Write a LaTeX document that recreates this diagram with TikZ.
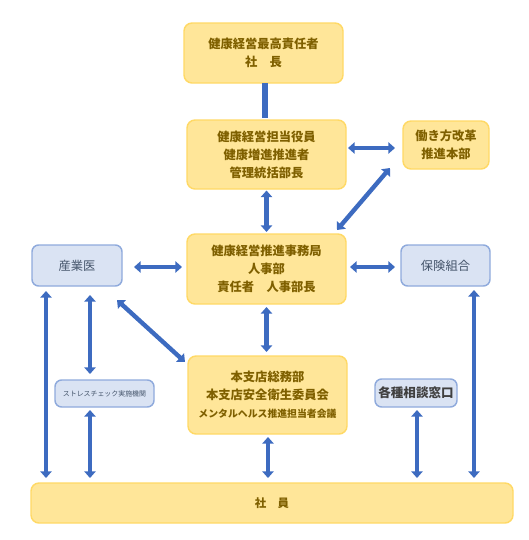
\documentclass[tikz,border=0pt]{standalone}
\usepackage{fontspec}
\newfontfamily\jp{Noto Sans CJK JP}
\usetikzlibrary{calc,arrows.meta}
\definecolor{yfill}{HTML}{FFE699}
\definecolor{ydraw}{HTML}{FFD966}
\definecolor{ytext}{HTML}{7F6000}
\definecolor{bfill}{HTML}{DAE3F3}
\definecolor{bdraw}{HTML}{8FAADC}
\definecolor{btext}{HTML}{44546A}
\definecolor{arr}{HTML}{3D6BC0}
\tikzset{
  ybox/.style={draw=ydraw,fill=yfill,line width=1.1pt,rounded corners=6pt,align=center,
    inner sep=0pt,outer sep=0pt,text=ytext,font=\jp\bfseries\fontsize{9.2}{13.5}\selectfont},
  bbox/.style={draw=bdraw,fill=bfill,line width=1.1pt,rounded corners=5pt,align=center,
    inner sep=0pt,outer sep=0pt,text=btext,font=\jp\fontsize{9.2}{13}\selectfont},
  barrow/.style={draw=arr,line width=3.3pt,{Triangle[width=8.5pt,length=5pt]}-{Triangle[width=8.5pt,length=5pt]}},
  bar/.style={draw=arr,line width=5.2pt}
}
\begin{document}
\begin{tikzpicture}[x=0.75pt,y=-0.75pt]
\useasboundingbox (0,0) rectangle (529,540);
\node[ybox,minimum width=119.25pt,minimum height=45pt] (top) at (263.5,53) {健康経営最高責任者\\社　長};
\node[ybox,minimum width=119.25pt,minimum height=51.75pt] (yakuin) at (266.5,154.5) {健康経営担当役員\\健康増進推進者\\管理統括部長};
\node[ybox,minimum width=64.5pt,minimum height=36pt] (hk) at (446,145) {働き方改革\\推進本部};
\node[ybox,minimum width=119.25pt,minimum height=52.5pt] (jimu) at (266.5,269) {健康経営推進事務局\\人事部\\責任者　人事部長};
\node[bbox,minimum width=67.5pt,minimum height=30.75pt] (sangyoi) at (77,265.5) {産業医};
\node[bbox,minimum width=66.75pt,minimum height=30.75pt] (hoken) at (445.5,265.5) {保険組合};
\node[ybox,minimum width=119.25pt,minimum height=58.5pt] (honshi) at (267.5,395) {本支店総務部\\本支店安全衛生委員会\\{\fontsize{7.4}{12}\selectfont メンタルヘルス推進担当者会議}};
\node[bbox,minimum width=74.25pt,minimum height=20.25pt,font=\jp\fontsize{5.2}{6}\selectfont] (stress) at (104.5,393.5) {ストレスチェック実施機関};
\node[bbox,minimum width=61.5pt,minimum height=21pt,text=black!75,font=\jp\bfseries\fontsize{9.4}{11}\selectfont] (soudan) at (416,393) {各種相談窓口};
\node[ybox,minimum width=361.5pt,minimum height=30pt,font=\jp\bfseries\fontsize{8.6}{10}\selectfont] (shain) at (272,503) {社　員};
% connectors
\draw[bar] ($(top.south)+(1.5,0)$) -- ($(yakuin.north)+(-1.5,-2)$);
\draw[barrow] ($(yakuin.east)+(2,-6.5)$) -- ($(hk.west)+(-8,3)$);
\draw[barrow] ($(hk.south west)+(-13,-1)$) -- ($(jimu.north east)+(-9,-4)$);
\draw[barrow] ($(yakuin.south)+(0,1.5)$) -- ($(jimu.north)+(0,-2)$);
\draw[barrow] ($(sangyoi.east)+(12,1.5)$) -- ($(jimu.west)+(-5,-2)$);
\draw[barrow] ($(jimu.east)+(4,-2)$) -- ($(hoken.west)+(-6,1.5)$);
\draw[barrow] ($(jimu.south)+(0,3)$) -- ($(honshi.north)+(-1,-4)$);
\draw[barrow] ($(sangyoi.south east)+(-5,14)$) -- ($(honshi.north west)+(-3,6)$);
\draw[barrow] ($(sangyoi.south west)+(58,9)$) -- ($(stress.north west)+(35,-6)$);
\draw[barrow] ($(stress.south west)+(35,3)$) -- ($(shain.north west)+(59,-5)$);
\draw[barrow] ($(sangyoi.south west)+(14,5)$) -- ($(shain.north west)+(15,-5)$);
\draw[barrow] ($(honshi.south)+(0.5,3)$) -- ($(shain.north west)+(237,-5)$);
\draw[barrow] ($(soudan.south)+(1,3)$) -- ($(shain.north west)+(386,-5)$);
\draw[barrow] ($(hoken.south)+(28.5,4)$) -- ($(shain.north west)+(443,-5)$);
\end{tikzpicture}
\end{document}
